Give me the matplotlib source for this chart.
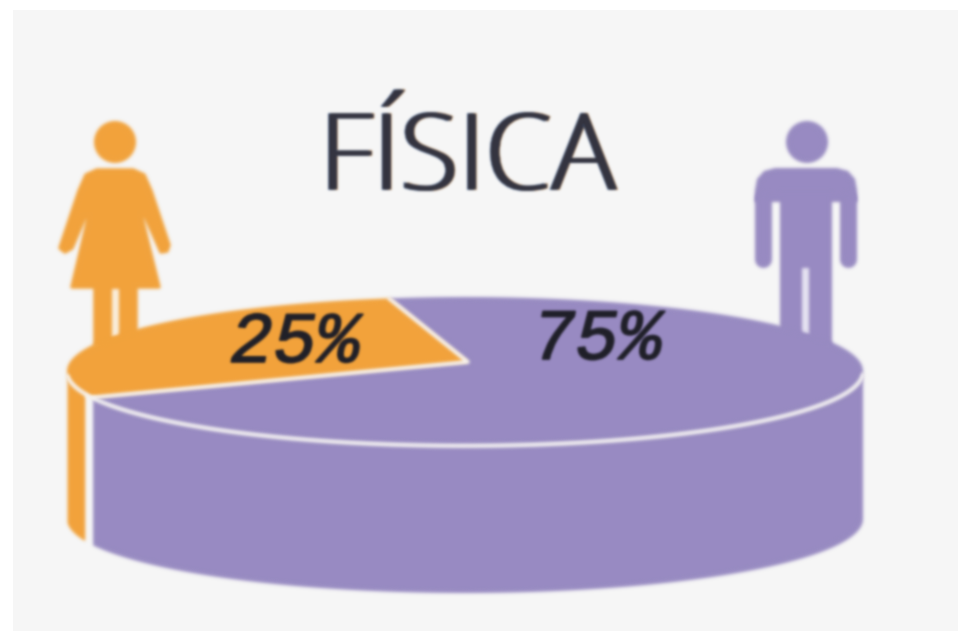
'''FÍSICA: Anteil Frauen / Männer als flache 3D-Torte mit zwei Figuren.
'''
import numpy as np
import matplotlib
matplotlib.use('Agg')
import matplotlib.pyplot as plt
from matplotlib.patches import Circle, Polygon, Rectangle
import matplotlib.patheffects as pe

TITLE = 'FÍSICA'
GROUPS = ['Mujeres', 'Hombres']
SHARES = [25, 75]

ORANGE = '#f2a33c'
PURPLE = '#988bc2'
BACKGROUND = '#f6f6f6'
INK = '#1f1f28'
LINE = '#f8f6f4'

# Torte in Pixeln
CX, CY = 465, 371
RX, RY = 398, 74
DEPTH = 148
APEX = (468, 362)
START_ANGLE = 101
# Das Original ist nicht massstaeblich: 25% sind dort etwa 100 Grad
SWEEP_SCALE = 1.11


def blur(image, dpi, sigma=1.7):
    '''agg_filter: das Original ist ein hochskaliertes, weiches Bild
    '''
    pad = int(sigma * 4)
    im = np.pad(image, ((pad, pad), (pad, pad), (0, 0)))
    x = np.arange(-pad, pad + 1)
    kernel = np.exp(-x**2 / (2 * sigma**2))
    kernel = kernel / kernel.sum()
    alpha = im[:, :, 3:]
    pre = np.concatenate([im[:, :, :3] * alpha, alpha], axis=2)
    for axis in (0, 1):
        pre = np.apply_along_axis(np.convolve, axis, pre, kernel, mode='same')
    a = np.clip(pre[:, :, 3:], 1e-6, 1)
    out = np.concatenate([np.clip(pre[:, :, :3] / a, 0, 1), a], axis=2)
    return out, -pad, -pad


def small_blur(image, dpi):
    return blur(image, dpi, 1.2)


def add(ax, patch):
    patch.set_agg_filter(blur)
    ax.add_patch(patch)


def rim(theta_from, theta_to, dy=0, n=120):
    '''Punkte auf dem Ellipsenrand, Winkel in Grad, math. positiv
    '''
    theta = np.radians(np.linspace(theta_from, theta_to, n))
    return np.column_stack([CX + RX * np.cos(theta), CY - RY * np.sin(theta) + dy])


def draw_pie(ax):
    angle_women = SHARES[0] / sum(SHARES) * 360 * SWEEP_SCALE
    end_women = START_ANGLE + angle_women

    # Seitenwand: vorn von links nach rechts
    side_left = rim(183, end_women - 3.5)
    side_left_low = rim(end_women - 3.5, 183, DEPTH)
    add(ax, Polygon(np.vstack([side_left, side_left_low]), facecolor=ORANGE, lw=0))

    side_top = rim(end_women, 360)
    side_low = rim(360, end_women, DEPTH)
    add(ax, Polygon(np.vstack([side_top, side_low]), facecolor=PURPLE, lw=0))

    # Deckel
    top_women = np.vstack([[APEX], rim(START_ANGLE, end_women)])
    top_men = np.vstack([[APEX], rim(end_women, START_ANGLE + 360)])
    add(ax, Polygon(top_men, facecolor=PURPLE, lw=0))
    add(ax, Polygon(top_women, facecolor=ORANGE, lw=0))

    # weisse Linien
    line = dict(color=LINE, lw=2.6, solid_capstyle='round', agg_filter=blur)
    front = rim(183, 358)
    ax.plot(front[:, 0], front[:, 1] + 1, **line)
    p_left = rim(end_women, end_women, n=1)[0]
    p_top = rim(START_ANGLE, START_ANGLE, n=1)[0]
    ax.plot([p_left[0], APEX[0], p_top[0]], [p_left[1], APEX[1], p_top[1]], **line)

    outline = [pe.Stroke(linewidth=1.2, foreground=INK), pe.Normal()]
    for share, x, y in zip(SHARES, (295, 597), (343, 340)):
        ax.text(x, y, f'{share}%', fontsize=52, style='italic', color=INK, ha='center',
                va='center', family=['Liberation Mono', 'DejaVu Sans'],
                path_effects=outline, agg_filter=small_blur)


def draw_woman(ax):
    add(ax, Circle((115, 142), 21, facecolor=ORANGE, lw=0))
    body = [(97, 170), (133, 170), (144, 175), (151, 191), (169, 245), (167, 251), (161, 252),
            (137, 198), (159, 287), (136, 287), (136, 345), (95, 345), (95, 287), (72, 287),
            (93, 198), (72, 248), (65, 252), (60, 248), (79, 191), (86, 175)]
    add(ax, Polygon(body, closed=True, facecolor=ORANGE, edgecolor=ORANGE, lw=2.5,
                    joinstyle='round'))
    add(ax, Rectangle((112.5, 289), 7, 48, facecolor='#fbf0de', lw=0))


def draw_man(ax):
    add(ax, Circle((807, 142), 21, facecolor=PURPLE, lw=0))
    shoulders = [(775, 168), (837, 168), (848, 171), (855, 179), (857, 190), (857, 202),
                 (755, 202), (755, 190), (757, 179), (764, 171)]
    add(ax, Polygon(shoulders, closed=True, facecolor=PURPLE, lw=0))
    add(ax, Rectangle((780, 190), 52, 160, facecolor=PURPLE, lw=0))
    # Arme als dicke Linien mit runden Enden, 17 px breit
    for x in (763.5, 848.5):
        ax.plot([x, x], [198, 259], color=PURPLE, lw=12.2, solid_capstyle='round',
                agg_filter=blur)
    add(ax, Rectangle((802.5, 268), 7, 67, facecolor='#e8e4f2', lw=0))


def main():
    fig = plt.figure(figsize=(9.58, 6.31), dpi=100, facecolor='white')
    ax = fig.add_axes([0, 0, 1, 1])
    ax.set_xlim(0, 958)
    ax.set_ylim(631, 0)
    ax.axis('off')

    ax.add_patch(Rectangle((13, 10), 945, 621, facecolor=BACKGROUND, lw=0))

    draw_woman(ax)
    draw_man(ax)
    draw_pie(ax)

    fringe = [pe.Stroke(linewidth=0.3, foreground='#e8a050', offset=(1.4, 0)),
              pe.Stroke(linewidth=0.3, foreground='#4a78b8', offset=(-1.4, 0)),
              pe.Normal()]
    ax.text(468, 162, TITLE, fontsize=77, family=['Open Sans', 'DejaVu Sans'], weight='light',
            color='#33333f', ha='center', va='center', path_effects=fringe,
            agg_filter=small_blur)

    fig.savefig('out.png', dpi=100)


if __name__ == '__main__':
    main()
